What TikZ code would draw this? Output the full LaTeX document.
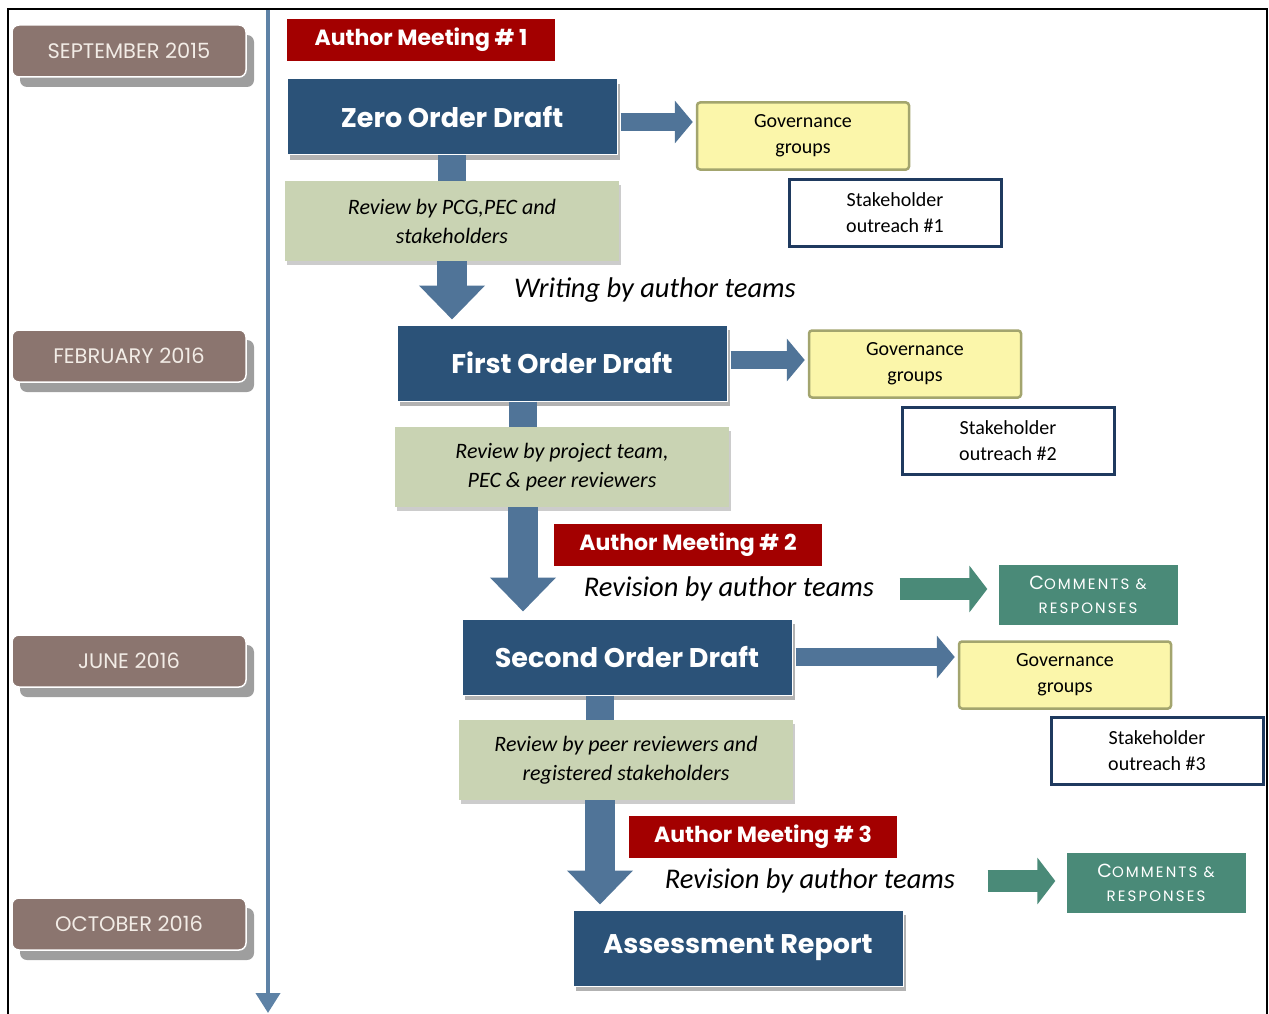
\documentclass[tikz,border=0pt]{standalone}
\usepackage{fontspec}
\setmainfont{Carlito}
\newfontfamily\gothic{Poppins}
\newfontfamily\gothicsp[LetterSpace=14]{Poppins}
\usetikzlibrary{arrows.meta,shadows}

\definecolor{datebrown}{RGB}{139,117,111}
\definecolor{datetext}{RGB}{242,236,230}
\definecolor{meetred}{RGB}{163,0,0}
\definecolor{draftblue}{RGB}{43,82,120}
\definecolor{arrowblue}{RGB}{80,116,152}
\definecolor{linkblue}{RGB}{94,130,166}
\definecolor{reviewgreen}{RGB}{201,211,179}
\definecolor{govyellow}{RGB}{251,246,170}
\definecolor{govborder}{RGB}{163,165,110}
\definecolor{outborder}{RGB}{31,58,95}
\definecolor{tealbox}{RGB}{74,138,120}

\begin{document}
\begin{tikzpicture}[x=1pt,y=-1pt,
    datebox/.style={fill=datebrown,draw=white,line width=1.5pt,rounded corners=7pt,
      minimum width=234pt,minimum height=52pt,text=datetext,
      font=\gothic\fontsize{21}{24}\selectfont,
      drop shadow={shadow xshift=8pt,shadow yshift=-10pt,fill=black!38,opacity=1}},
    meeting/.style={fill=meetred,minimum width=268pt,minimum height=42pt,text=white,
      font=\gothic\bfseries\fontsize{22}{24}\selectfont},
    draft/.style={fill=draftblue,draw=white,line width=1pt,minimum width=330pt,minimum height=76pt,
      text=white,font=\gothic\bfseries\fontsize{27}{30}\selectfont,
      drop shadow={shadow xshift=3pt,shadow yshift=-5pt,fill=black,opacity=.3}},
    review/.style={fill=reviewgreen,minimum width=334pt,minimum height=80pt,align=center,
      font=\itshape\fontsize{22}{29}\selectfont,
      drop shadow={shadow xshift=2pt,shadow yshift=-4pt,fill=black,opacity=.2}},
    gov/.style={fill=govyellow,draw=govborder,line width=2.5pt,rounded corners=3pt,
      minimum width=212pt,minimum height=67pt,align=center,font=\fontsize{20}{26}\selectfont},
    outreach/.style={fill=white,draw=outborder,line width=3pt,
      minimum width=212pt,minimum height=67pt,align=center,font=\fontsize{20}{26}\selectfont},
    comments/.style={fill=tealbox,minimum width=179pt,minimum height=60pt,align=center,
      text=white,font=\gothicsp\fontsize{15}{24}\selectfont},
    note/.style={font=\itshape\fontsize{28.5}{30}\selectfont},
    stem/.style={draw=arrowblue,line width=28pt},
    downarrow/.style={draw=arrowblue,line width=30pt,-{Triangle[width=64pt,length=34pt]}},
    rightarrow/.style={draw=arrowblue,line width=18pt,-{Triangle[width=42pt,length=18pt]},
      shorten <=3pt,shorten >=3pt},
    tealarrow/.style={draw=tealbox,line width=22pt,-{Triangle[width=46pt,length=18pt]}}]
  \useasboundingbox (0,0) rectangle (1269,1014);

  % frame and time line
  \draw[line width=2pt] (8,1014) -- (8,9) -- (1267,9) -- (1267,1014);
  \coordinate (ttop) at (268,10);
  \coordinate (tend) at (268,1013);
  \draw[linkblue,line width=4pt,-{Triangle[width=24pt,length=20pt]}] (ttop) -- (tend);

  % dates
  \foreach \d/\y/\t in {sep/51/SEPTEMBER 2015,feb/356/FEBRUARY 2016,jun/661/JUNE 2016,oct/924/OCTOBER 2016}
    \node[datebox] (\d) at (129,\y) {\t};

  % drafts and reviews
  \node[meeting] (meet1) at (421,40) {Author Meeting \# 1};
  \node[draft] (zod) at (452,117) {Zero Order Draft};
  \node[review] (rev1) at (452,221) {Review by PCG,PEC and\\stakeholders};
  \node[draft] (fod) at (562,363) {First Order Draft};
  \node[review] (rev2) at (562,467) {Review by project team,\\PEC \& peer reviewers};
  \node[meeting] (meet2) at (688,545) {Author Meeting \# 2};
  \node[draft] (sod) at (627,657) {Second Order Draft};
  \node[review] (rev3) at (626,760) {Review by peer reviewers and\\registered stakeholders};
  \node[meeting] (meet3) at (763,837) {Author Meeting \# 3};
  \node[draft] (ar) at (738,948) {Assessment Report};

  \node[note] (write) at (655,290) {Writing by author teams};
  \node[note] (revise1) at (729,589) {Revision by author teams};
  \node[note] (revise2) at (810,881) {Revision by author teams};

  % side boxes
  \node[gov] (gov1) at (803,136) {Governance\\groups};
  \node[outreach] (out1) at (895,213) {Stakeholder\\outreach \#1};
  \node[gov] (gov2) at (915,364) {Governance\\groups};
  \node[outreach] (out2) at (1008,441) {Stakeholder\\outreach \#2};
  \node[gov] (gov3) at (1065,675) {Governance\\groups};
  \node[outreach] (out3) at (1157,751) {Stakeholder\\outreach \#3};
  \node[comments] (com1) at (1088,595) {{\fontsize{19}{24}\selectfont C}OMMENTS \&\\RESPONSES};
  \node[comments] (com2) at (1156,883) {{\fontsize{19}{24}\selectfont C}OMMENTS \&\\RESPONSES};

  % arrows
  \draw[stem] (zod.south) -- (rev1.north);
  \draw[downarrow] (rev1.south) -- ([yshift=5pt]rev1.south |- fod.north);
  \draw[stem] ([xshift=-39pt]fod.south) -- ([xshift=-39pt]rev2.north);
  \draw[downarrow] ([xshift=-39pt]rev2.south) -- ([xshift=-39pt,yshift=7pt]rev2.south |- sod.north);
  \draw[stem] ([xshift=-27pt]sod.south) -- ([xshift=-26pt]rev3.north);
  \draw[downarrow] ([xshift=-26pt]rev3.south) -- ([xshift=-26pt,yshift=5pt]rev3.south |- ar.north);

  \draw[rightarrow] ([yshift=-5pt]zod.east) -- ([yshift=-5pt]zod.east -| gov1.west);
  \draw[rightarrow] ([yshift=3pt]fod.east) -- ([yshift=3pt]fod.east -| gov2.west);
  \draw[rightarrow] (sod.east) -- (sod.east -| gov3.west);

  \draw[tealarrow,shorten <=22pt,shorten >=11pt] (revise1.east) -- (revise1.east -| com1.west);
  \draw[tealarrow,shorten <=29pt,shorten >=11pt] (revise2.east) -- (revise2.east -| com2.west);
\end{tikzpicture}
\end{document}
